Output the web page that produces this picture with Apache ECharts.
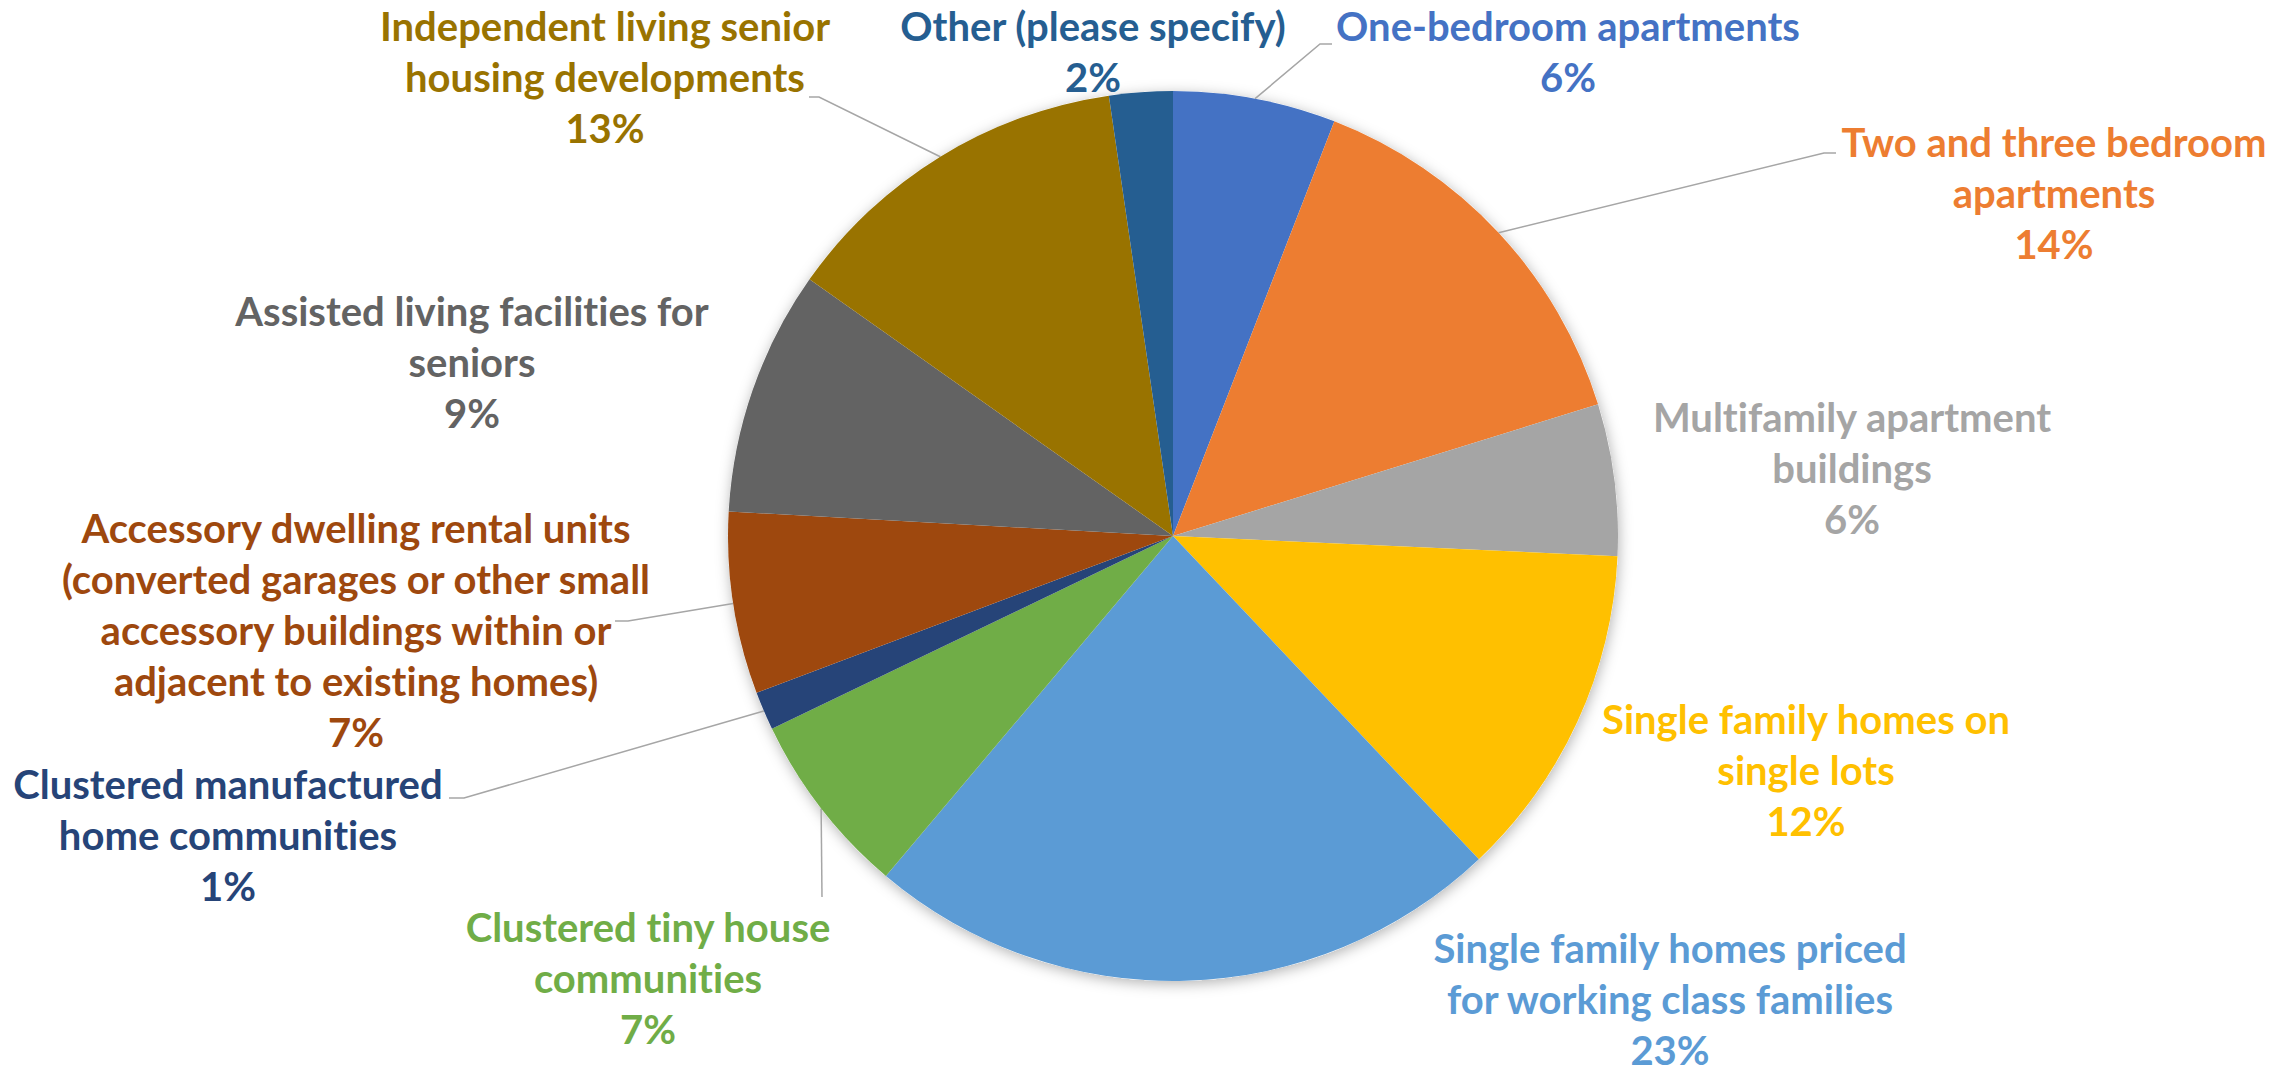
<!DOCTYPE html>
<html>
<head>
    <meta charset="UTF-8">
    <title>Preferred housing types</title>
    <script type="text/javascript" src="https://cdn.jsdelivr.net/npm/echarts@6/dist/echarts.min.js"></script>
    <style>
        html, body { height: 100%; margin: 0; background: #fff; }
        #container { width: 100%; height: 100%; }
        /* Lato joins "ti"/"fi" otherwise */
        #container svg text { font-variant-ligatures: none; font-feature-settings: "liga" 0, "clig" 0; }
    </style>
</head>
<body>
<div id="container"></div>
<script type="text/javascript">
    // slices, clockwise from 12 o'clock
    var categories = [
        'One-bedroom apartments',
        'Two and three bedroom apartments',
        'Multifamily apartment buildings',
        'Single family homes on single lots',
        'Single family homes priced for working class families',
        'Clustered tiny house communities',
        'Clustered manufactured home communities',
        'Accessory dwelling rental units (converted garages or other small accessory buildings within or adjacent to existing homes)',
        'Assisted living facilities for seniors',
        'Independent living senior housing developments',
        'Other (please specify)'
    ];
    // share of responses, %
    var shares = [5.9, 14.3, 5.5, 12.2, 23.2, 6.7, 1.4, 6.6, 8.9, 12.9, 2.3];

    // label text wrapped as in the original
    var labelNames = [
        'One-bedroom apartments',
        'Two and three bedroom\napartments',
        'Multifamily apartment\nbuildings',
        'Single family homes on\nsingle lots',
        'Single family homes priced\nfor working class families',
        'Clustered tiny house\ncommunities',
        'Clustered manufactured\nhome communities',
        'Accessory dwelling rental units\n(converted garages or other small\naccessory buildings within or\nadjacent to existing homes)',
        'Assisted living facilities for\nseniors',
        'Independent living senior\nhousing developments',
        'Other (please specify)'
    ];

    var colors = ['#4472C4', '#ED7D31', '#A5A5A5', '#FFC000', '#5B9BD5', '#70AD47',
        '#264478', '#9E480E', '#636363', '#997300', '#255E91'];

    // label centres (px) and leader line bends, null = no leader
    var labelPos = [
        [1568, 51], [2054, 193], [1852, 468], [1806, 770], [1670, 999], [648, 978],
        [228, 835], [356, 630], [472, 362], [605, 77], [1093, 51]
    ];
    var leaders = [
        [[1320, 44], [1332, 44]],
        [[1824, 153], [1836, 153]],
        null,
        null,
        null,
        [[822, 897]],
        [[464, 798], [449, 798]],
        [[628, 621], [615, 621]],
        null,
        [[819, 97], [809, 97]],
        null
    ];

    var dom = document.getElementById('container');
    var myChart = echarts.init(dom, null, { renderer: 'svg' });
    var option;

    var pieData = categories.map(function (name, i) {
        return {
            name: name,
            value: shares[i],
            itemStyle: { color: colors[i] },
            label: { color: colors[i] },
            labelLine: { show: leaders[i] != null }
        };
    });

    option = {
        backgroundColor: '#ffffff',
        animation: false,
        series: [
            {
                // soft drop shadow behind the pie
                type: 'pie',
                silent: true,
                z: 1,
                center: [1173, 536],
                radius: 445,
                data: [{ value: 1, itemStyle: {
                    color: '#ffffff',
                    shadowBlur: 14,
                    shadowColor: 'rgba(0,0,0,0.3)',
                    shadowOffsetX: 1,
                    shadowOffsetY: 3
                } }],
                label: { show: false },
                labelLine: { show: false }
            },
            {
                type: 'pie',
                z: 2,
                center: [1173, 536],
                radius: 445,
                startAngle: 90,
                clockwise: true,
                percentPrecision: 0,
                avoidLabelOverlap: false,
                itemStyle: { borderWidth: 0 },
                label: {
                    show: true,
                    position: 'outside',
                    fontFamily: 'Lato',
                    fontWeight: 'bold',
                    fontSize: 40,
                    lineHeight: 51,
                    align: 'center',
                    formatter: function (p) {
                        return labelNames[p.dataIndex] + '\n' + p.percent + '%';
                    }
                },
                labelLine: {
                    show: true,
                    length: 20,
                    length2: 10,
                    lineStyle: { color: '#A6A6A6', width: 1.5 }
                },
                labelLayout: function (params) {
                    var i = params.dataIndex;
                    var out = {
                        x: labelPos[i][0],
                        y: labelPos[i][1],
                        align: 'center',
                        verticalAlign: 'middle'
                    };
                    if (leaders[i] && params.labelLinePoints) {
                        out.labelLinePoints = [params.labelLinePoints[0]].concat(leaders[i]);
                    }
                    return out;
                },
                data: pieData
            }
        ]
    };

    if (option && typeof option === 'object') {
        myChart.setOption(option);
    }
</script>
</body>
</html>
